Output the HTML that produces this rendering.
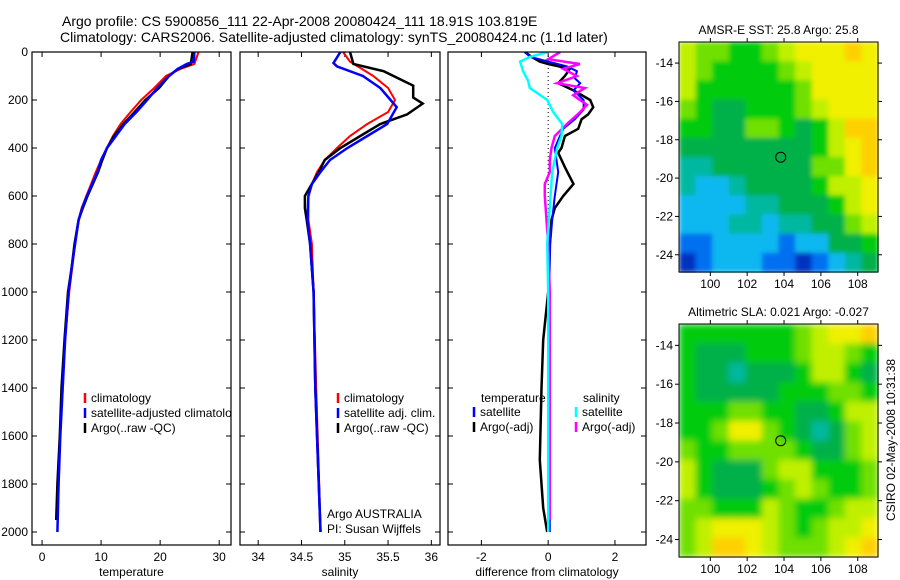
<!DOCTYPE html>
<html><head><meta charset="utf-8"><style>
html,body{margin:0;padding:0;background:#fff;}
svg{display:block;font-family:"Liberation Sans",Helvetica,sans-serif;}
</style></head><body>
<svg id="c" width="900" height="580" xmlns="http://www.w3.org/2000/svg">
<defs>
<filter id="blurS" x="0" y="0" width="1" height="1"><feGaussianBlur stdDeviation="2.5" edgeMode="duplicate"/></filter>
<filter id="blurL" x="0" y="0" width="1" height="1"><feGaussianBlur stdDeviation="3.5" edgeMode="duplicate"/></filter>
</defs>
</svg>
<script>
// ---------- data ----------
const tBlueD=[0,40,50,70,100,150,200,250,300,350,400,450,500,550,600,650,700,800,900,1000,1200,1400,1600,1800,2000];
const tBlueV=[25.8,25.7,24.5,23,21.5,19.5,17.8,16,14,12.5,11,10,9.4,8.5,7.6,6.8,6.2,5.6,5.0,4.5,3.9,3.5,3.1,2.8,2.6];
const tRedD=[0,50,70,100,150,200,250,300,350,400,450,500,550,600,650,700,800,900,1000,1200,1400,1600,1800,1930];
const tRedV=[26.5,25.8,23.5,21,19,16.8,15,13.3,12,11,10,9.1,8.3,7.5,6.7,6.2,5.6,5.1,4.6,3.9,3.4,3.0,2.7,2.6];
const tBlkD=[0,50,70,100,150,200,250,300,350,400,450,500,550,600,650,700,800,900,1000,1200,1400,1600,1800,1950];
const tBlkV=[25.5,25.2,23,21.5,19.8,17.5,15.7,13.8,12.2,11,10.2,9.5,8.6,7.7,6.9,6.2,5.5,5,4.4,3.8,3.3,3,2.6,2.4];
const sBlueD=[0,46,60,100,150,200,230,300,350,400,450,500,550,600,700,800,1000,1400,2000];
const sBlueV=[34.95,34.87,34.91,35.21,35.41,35.53,35.6,35.49,35.26,35.03,34.83,34.72,34.62,34.58,34.57,34.6,34.64,34.66,34.72];
const sRedD=[0,40,100,150,200,250,300,350,400,450,500,550,600,700,800,1000,1400,1870];
const sRedV=[34.98,35.06,35.33,35.5,35.58,35.5,35.26,35.06,34.91,34.77,34.68,34.62,34.58,34.58,34.62,34.64,34.67,34.71];
const sBlkD=[0,50,80,140,190,215,260,300,350,400,450,500,600,650,700,800,1000,1400,1800,2000];
const sBlkV=[35.06,35.1,35.45,35.79,35.79,35.9,35.72,35.41,35.18,34.95,34.77,34.7,34.54,34.54,34.56,34.6,34.64,34.66,34.7,34.72];
const dCyanD=[0,20,40,80,120,150,200,250,300,350,400,500,600,800,1000,1500,2000];
const dCyanV=[0,-0.54,-0.84,-0.75,-0.6,-0.55,-0.03,0.15,0.42,0.4,0.27,0.12,0.07,-0.03,0,0,0];
const dMagD=[0,30,50,70,100,130,150,180,220,250,300,350,400,450,500,550,600,700,800,1000,1500,1950];
const dMagV=[0.36,0,0.95,0.45,0.86,0.27,1.1,0.75,1.16,0.96,0.56,0.2,0.1,0.05,0.05,-0.1,-0.1,-0.05,0,0.05,0.05,0.05];
const dBlueD=[0,20,40,60,80,110,130,160,200,240,280,320,400,500,600,700,800,1000,1500,2000];
const dBlueV=[-0.7,-0.54,0,0.57,0.86,0.8,0.96,0.76,1.06,1.06,0.8,0.45,0.2,0.3,0.2,0.12,0.06,0.03,0.03,0.05];
const dBlkD=[0,20,40,50,70,100,130,160,200,230,260,280,320,350,400,420,480,550,600,650,700,800,1000,1200,1400,1700,1900,2000];
const dBlkV=[-0.7,-0.5,-0.25,0,0.65,0.5,0.3,0.76,1.26,1.35,1.2,1.0,0.9,0.5,0.4,0.3,0.5,0.76,0.45,0.2,0.1,0.05,0,-0.15,-0.2,-0.25,-0.15,-0.03];
const depthTicks=[0,200,400,600,800,1000,1200,1400,1600,1800,2000];
const tempTicks=[0,10,20,30];
const salTicks=["34","34.5","35","35.5","36"];
const diffTicks=[-2,0,2];
const lonTicks=[100,102,104,106,108];
const latTicks=[14,16,18,20,22,24];
const sstGrid=[
[8,7,7,6,6,7,8,9,9,9,10,9],
[8,7,6,6,6,6,7,8,9,9,9,9],
[8,6,6,6,6,6,6,7,9,9,9,9],
[7,6,5,5,6,6,6,7,8,9,9,9],
[6,6,5,5,7,7,6,5,6,8,10,10],
[5,5,5,5,5,5,5,5,6,8,9,10],
[4,4,5,5,5,5,5,5,7,7,9,10],
[4,3,3,4,5,5,5,5,6,8,8,9],
[3,3,3,3,4,4,5,5,5,6,8,9],
[3,3,3,4,4,3,4,4,5,5,7,8],
[2,2,3,3,3,3,2,3,3,5,5,6],
[1,2,3,3,3,2,2,1,2,3,4,5]];
const slaGrid=[
[6,6,6,6,6,6,6,7,8,9,9,10],
[6,5,5,5,6,6,6,7,8,8,7,6],
[6,5,5,4,5,5,5,6,8,8,6,5],
[6,5,5,5,5,5,6,6,6,7,7,6],
[6,6,6,7,7,6,6,5,5,6,8,8],
[6,6,7,9,9,7,6,5,4,5,7,8],
[7,6,6,7,7,7,7,6,5,5,7,8],
[8,6,5,5,5,7,8,8,6,6,6,7],
[8,6,5,5,5,6,7,8,7,6,6,7],
[7,7,6,6,6,8,7,6,6,7,8,8],
[7,8,9,9,9,8,7,6,7,8,8,9],
[7,8,10,10,9,8,7,7,7,8,9,10]];
const cmap=["#0030c0","#0070f0","#10b8f0","#00b8a0","#00b048","#00cc10","#70e000","#c0f000","#f0f000","#ffd000"];

// ---------- helpers ----------
const svg=document.getElementById('c');const NS="http://www.w3.org/2000/svg";
function mk(tag,at,parent){const e=document.createElementNS(NS,tag);for(const k in at)e.setAttribute(k,at[k]);(parent||svg).appendChild(e);return e;}
function txt(x,y,s,anchor,size,parent){const e=mk('text',{x:x,y:y,'font-size':size||12,'text-anchor':anchor||'start',fill:'#000'},parent);e.textContent=s;return e;}
const Y0=52,YS=0.24;const yD=d=>Y0+d*YS;

function panel(name,x0,x1,vmin,vmax,ticks,label,showY){
  const sx=v=>x0+(v-vmin)/(vmax-vmin)*(x1-x0);
  const g=mk('g',{});
  
  
  const clipId=name+'-clip';
  const cp=mk('clipPath',{id:clipId},g);mk('rect',{x:x0,y:Y0,width:x1-x0,height:545-Y0},cp);
  ticks.forEach(t=>{const v=parseFloat(t);const x=sx(v);
    mk('line',{x1:x,x2:x,y1:545,y2:540,stroke:'#000'},g);mk('line',{x1:x,x2:x,y1:Y0,y2:Y0+5,stroke:'#000'},g);
    const l=txt(x,561,String(t),'middle',12,g);});
  depthTicks.forEach(d=>{const y=yD(d);
    mk('line',{x1:x0,x2:x0+5,y1:y,y2:y,stroke:'#000'},g);mk('line',{x1:x1,x2:x1-5,y1:y,y2:y,stroke:'#000'},g);
    if(showY){const l=txt(x0-4,y+4,String(d),'end',12,g);}});
  const xl=txt((x0+x1)/2,576,label,'middle',12,g);
  const plot=mk('g',{'clip-path':'url(#'+clipId+')'},g);
  mk('rect',{x:x0,y:Y0,width:x1-x0,height:545-Y0,fill:'none',stroke:'#000','stroke-width':1.2},g);
  return {sx,plot,g};
}
function series(p,D,V,color,w,name){
  const pts=D.map((d,i)=>p.sx(V[i]).toFixed(1)+','+yD(d).toFixed(1)).join(' ');
  const e=mk('polyline',{points:pts,fill:'none',stroke:color,'stroke-width':w,'stroke-linejoin':'miter'},p.plot);
  
  
}
function legend(parent,x,y,color,label,nm){
  if(color)mk('line',{x1:x,x2:x,y1:y-9,y2:y+1,stroke:color,'stroke-width':2.5},parent);
  const t=txt(x+6,y,label,'start',12,parent);
  
  
}

// titles
const t1=txt(62,26,'Argo profile: CS 5900856_111 22-Apr-2008 20080424_111 18.91S 103.819E','start',14);


const t2=txt(60,42,'Climatology: CARS2006. Satellite-adjusted climatology: synTS_20080424.nc (1.1d later)','start',14);



// panel 1 temperature
const p1=panel('temperature-panel',32,231,-1.7,32,tempTicks,'temperature',true);
series(p1,tRedD,tRedV,'#ff0000',2,'temp-climatology-line');
series(p1,tBlkD,tBlkV,'#000',2.5,'temp-argo-line');
series(p1,tBlueD,tBlueV,'#0000ff',2.5,'temp-satellite-line');
const lg1=mk('g',{'clip-path':'url(#temperature-panel-clip)'});


legend(lg1,85,402,'#f00','climatology','legend-climatology');
legend(lg1,85,417,'#00f','satellite-adjusted climatology','legend-satellite');
legend(lg1,85,432,'#000','Argo(..raw -QC)','legend-argo');

// panel 2 salinity
const p2=panel('salinity-panel',240,440,33.79,36.1,salTicks,'salinity',false);
series(p2,sRedD,sRedV,'#ff0000',2,'sal-climatology-line');
series(p2,sBlkD,sBlkV,'#000',2.5,'sal-argo-line');
series(p2,sBlueD,sBlueV,'#0000ff',2.5,'sal-satellite-line');
const lg2=mk('g',{});


legend(lg2,338,402,'#f00','climatology','legend-climatology');
legend(lg2,338,417,'#00f','satellite adj. clim.','legend-satellite');
legend(lg2,338,432,'#000','Argo(..raw -QC)','legend-argo');
legend(lg2,321,518,null,'Argo AUSTRALIA','argo-australia-label');
legend(lg2,321,533,null,'PI: Susan Wijffels','pi-label');

// panel 3 difference
const p3=panel('difference-panel',448,646,-3,2.93,diffTicks,'difference from climatology',false);
mk('line',{x1:p3.sx(0),x2:p3.sx(0),y1:Y0,y2:yD(2000),stroke:'#000','stroke-dasharray':'1,3'},p3.plot);
series(p3,dBlkD,dBlkV,'#000',2.5,'diff-temp-argo-line');
series(p3,dBlueD,dBlueV,'#0000ff',2,'diff-temp-satellite-line');
series(p3,dMagD,dMagV,'#ff00ff',2.5,'diff-sal-argo-line');
series(p3,dCyanD,dCyanV,'#00ffff',2.5,'diff-sal-satellite-line');
const lg3=mk('g',{});


legend(lg3,475,402,null,'temperature','legend-temperature-heading');
legend(lg3,474,416,'#00f','satellite','legend-temp-satellite');
legend(lg3,474,431,'#000','Argo(-adj)','legend-temp-argo');
legend(lg3,577,402,null,'salinity','legend-salinity-heading');
legend(lg3,576,416,'#0ff','satellite','legend-sal-satellite');
legend(lg3,576,431,'#f0f','Argo(-adj)','legend-sal-argo');

// maps
function map(name,grid,top,bot,title,filt){
  const L=679,R=878,lon0=98.3,lon1=109.1,lat0=12.9,lat1=24.9;
  const sx=v=>L+(v-lon0)/(lon1-lon0)*(R-L);
  const sy=v=>top+(v-lat0)/(lat1-lat0)*(bot-top);
  const g=mk('g',{});
  
  
  const cells=mk('g',{filter:'url(#'+filt+')'},g);
  const nr=grid.length,nc=grid[0].length;
  const cw=(lon1-lon0)/nc,ch=(lat1-lat0)/nr;
  grid.forEach((row,i)=>row.forEach((v,j)=>{
    const x=sx(lon0+j*cw),y=sy(lat0+i*ch);
    const r=mk('rect',{x:x.toFixed(1),y:y.toFixed(1),width:(sx(lon0+(j+1)*cw)-x+0.6).toFixed(1),height:(sy(lat0+(i+1)*ch)-y+0.6).toFixed(1),fill:cmap[v-1]},cells);
    
    
  }));
  mk('rect',{x:L,y:top,width:R-L,height:bot-top,fill:'none',stroke:'#000'},g);
  lonTicks.forEach(v=>{const x=sx(v);mk('line',{x1:x,x2:x,y1:top,y2:top-4,stroke:'#000'},g);mk('line',{x1:x,x2:x,y1:bot,y2:bot+4,stroke:'#000'},g);
    const l=txt(x,bot+16,String(v),'middle',12,g);});
  latTicks.forEach(v=>{const y=sy(v);mk('line',{x1:L,x2:L-4,y1:y,y2:y,stroke:'#000'},g);mk('line',{x1:R,x2:R+4,y1:y,y2:y,stroke:'#000'},g);
    const l=txt(L-6,y+4,'-'+v,'end',12,g);});
  const c=mk('circle',{cx:sx(103.82),cy:sy(18.91),r:5,fill:'none',stroke:'#000'},g);
  
  
  const t=txt((L+R)/2,top-8,title,'middle',12,g);
  
  
}
map('sst-map',sstGrid,42,272,'AMSR-E SST: 25.8 Argo: 25.8','blurS');
map('sla-map',slaGrid,324,557,'Altimetric SLA: 0.021 Argo: -0.027','blurL');
const side=txt(0,0,'CSIRO 02-May-2008 10:31:38','middle',12);
side.setAttribute('transform','translate(895,440) rotate(-90)');


</script>
</body></html>
